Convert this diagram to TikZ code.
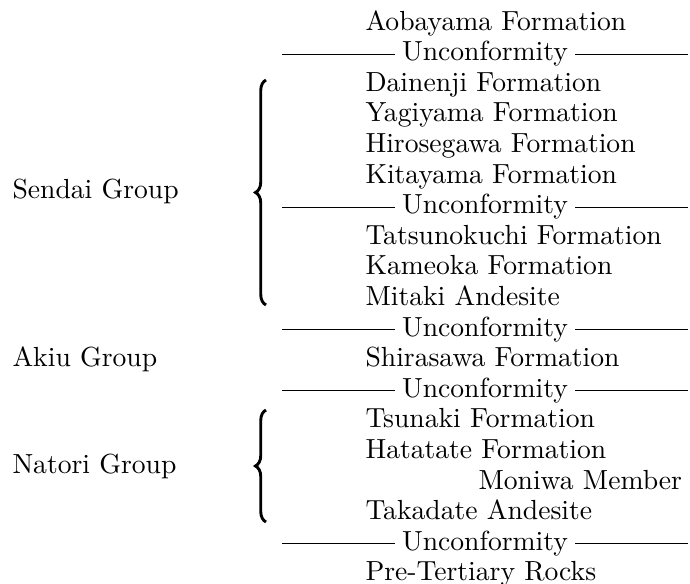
\documentclass[tikz,border=0pt]{standalone}
\usepackage{xcolor}
\usepackage{tikz}
\usetikzlibrary{decorations.pathreplacing}
\tikzset{
    formnode/.style = {anchor=west, inner sep=0pt, text height=7.5pt, text depth=2.5pt},
    groupnode/.style = {anchor=west, inner sep=0pt, text height=7.5pt, text depth=2.5pt},
    uncnode/.style = {inner ysep=0pt, inner xsep=2.5pt, text height=7.5pt, text depth=2.5pt},
}

\begin{document}
\begin{tikzpicture}[
	x=0.38pt, y=-0.38pt,
	font=\fontsize{10.5}{12.6}\selectfont
]
\tikzset{
    uncline/.style = {-, line width=0.45pt},
    bracer/.style = {decorate, decoration={brace, amplitude=4pt}, line width=1.1pt},
}
\useasboundingbox (0,0) rectangle (690,584);
\node[formnode] at (365,23.6) (aobayama) {Aobayama Formation};
\node[uncnode] at (485,54.2) (unc1) {Unconformity};
\node[formnode] at (365,84.8) (dainenji) {Dainenji Formation};
\node[formnode] at (365,115.4) (yagiyama) {Yagiyama Formation};
\node[formnode] at (365,146.0) (hirosegawa) {Hirosegawa Formation};
\node[formnode] at (365,176.6) (kitayama) {Kitayama Formation};
\node[uncnode] at (485,207.2) (unc2) {Unconformity};
\node[formnode] at (365,237.8) (tatsunokuchi) {Tatsunokuchi Formation};
\node[formnode] at (365,268.4) (kameoka) {Kameoka Formation};
\node[formnode] at (365,299.0) (mitaki) {Mitaki Andesite};
\node[uncnode] at (485,329.6) (unc3) {Unconformity};
\node[formnode] at (365,360.2) (shirasawa) {Shirasawa Formation};
\node[uncnode] at (485,390.8) (unc4) {Unconformity};
\node[formnode] at (365,421.4) (tsunaki) {Tsunaki Formation};
\node[formnode] at (365,452.0) (hatatate) {Hatatate Formation};
\node[formnode] at (478,482.6) (moniwa) {Moniwa Member};
\node[formnode] at (365,513.2) (takadate) {Takadate Andesite};
\node[uncnode] at (485,543.8) (unc5) {Unconformity};
\node[formnode] at (365,574.4) (pretertiary) {Pre-Tertiary Rocks};
% groups
\node[groupnode] at (12,192.0) (sendai) {Sendai Group};
\node[groupnode] at (12,360.2) (akiu) {Akiu Group};
\node[groupnode] at (12,467.3) (natori) {Natori Group};
% unconformity rules
\coordinate (uncL1) at (282,54.2);
\coordinate (uncR1) at (688,54.2);
\coordinate (uncL2) at (282,207.2);
\coordinate (uncR2) at (688,207.2);
\coordinate (uncL3) at (282,329.6);
\coordinate (uncR3) at (688,329.6);
\coordinate (uncL4) at (282,390.8);
\coordinate (uncR4) at (688,390.8);
\coordinate (uncL5) at (282,543.8);
\coordinate (uncR5) at (688,543.8);
\draw[uncline] (uncL1) to (unc1.west);
\draw[uncline] (unc1.east) to (uncR1);
\draw[uncline] (uncL2) to (unc2.west);
\draw[uncline] (unc2.east) to (uncR2);
\draw[uncline] (uncL3) to (unc3.west);
\draw[uncline] (unc3.east) to (uncR3);
\draw[uncline] (uncL4) to (unc4.west);
\draw[uncline] (unc4.east) to (uncR4);
\draw[uncline] (uncL5) to (unc5.west);
\draw[uncline] (unc5.east) to (uncR5);
% braces
\coordinate (sendaiTop) at (266,80);
\coordinate (sendaiBot) at (266,305);
\coordinate (natoriTop) at (266,410);
\coordinate (natoriBot) at (266,522);
\draw[bracer] (sendaiBot) -- (sendaiTop);
\draw[bracer] (natoriBot) -- (natoriTop);

\end{tikzpicture}
\end{document}
